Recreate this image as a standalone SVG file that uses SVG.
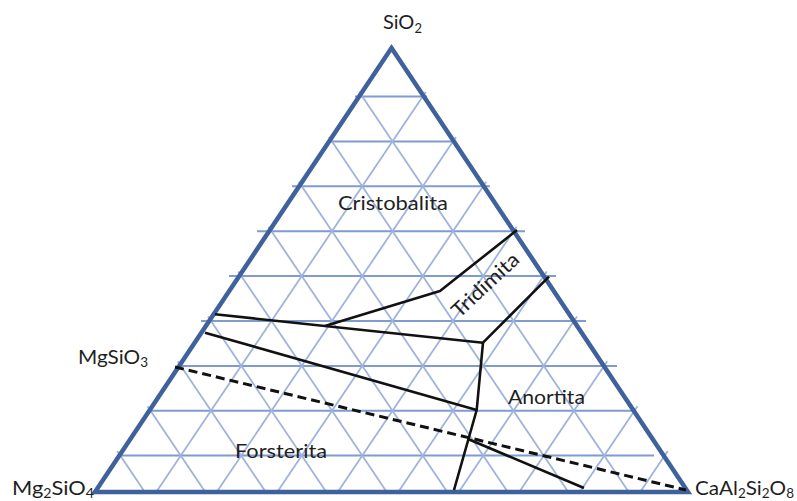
<svg xmlns="http://www.w3.org/2000/svg" width="797" height="501" viewBox="0 0 797 501">
<style>
.h{stroke:#7f9bd0;stroke-width:2;fill:none}
.d{stroke:#9fb3db;stroke-width:1.8;fill:none}
.ol{stroke:#3f619c;stroke-width:4.5;fill:none;stroke-linejoin:miter}
.b{stroke:#111;stroke-width:2.6;fill:none;stroke-linejoin:round}
.dash{stroke:#111;stroke-width:3;fill:none;stroke-dasharray:9 5}
text{font-family:Lato,"Open Sans","Liberation Sans",sans-serif;font-size:20px;fill:#1f1f1f}
.s{font-size:13px}
</style>
<rect width="797" height="501" fill="#fff"/>
<g id="grid">
<line class="h" x1="355" y1="96.6" x2="427" y2="96.6"/>
<line class="h" x1="329" y1="141.5" x2="455" y2="141.5"/>
<line class="h" x1="292" y1="186.3" x2="490" y2="186.3"/>
<line class="h" x1="257" y1="231.2" x2="525" y2="231.2"/>
<line class="h" x1="229" y1="276.1" x2="556" y2="276.1"/>
<line class="h" x1="201" y1="321" x2="586" y2="321"/>
<line class="h" x1="178" y1="365.9" x2="617" y2="365.9"/>
<line class="h" x1="150" y1="410.7" x2="632" y2="410.7"/>
<line class="h" x1="122" y1="455.6" x2="654" y2="455.6"/>
<line class="d" x1="425.75" y1="92.08" x2="156.25" y2="492"/>
<line class="d" x1="456" y1="136.96" x2="216.75" y2="492"/>
<line class="d" x1="486.25" y1="181.84" x2="277.25" y2="492"/>
<line class="d" x1="516.5" y1="226.72" x2="337.75" y2="492"/>
<line class="d" x1="546.75" y1="271.6" x2="398.25" y2="492"/>
<line class="d" x1="577" y1="316.48" x2="458.75" y2="492"/>
<line class="d" x1="607.25" y1="361.36" x2="519.25" y2="492"/>
<line class="d" x1="637.5" y1="406.24" x2="579.75" y2="492"/>
<line class="d" x1="667.75" y1="451.12" x2="640.25" y2="492"/>
<line class="d" x1="359.25" y1="92.08" x2="628.75" y2="492"/>
<line class="d" x1="329" y1="136.96" x2="568.25" y2="492"/>
<line class="d" x1="298.75" y1="181.84" x2="507.75" y2="492"/>
<line class="d" x1="268.5" y1="226.72" x2="447.25" y2="492"/>
<line class="d" x1="238.25" y1="271.6" x2="386.75" y2="492"/>
<line class="d" x1="208" y1="316.48" x2="326.25" y2="492"/>
<line class="d" x1="177.75" y1="361.36" x2="265.75" y2="492"/>
<line class="d" x1="147.5" y1="406.24" x2="205.25" y2="492"/>
<line class="d" x1="117.25" y1="451.12" x2="144.75" y2="492"/>
</g>
<g id="outline">
<polygon class="ol" points="391.5,48 688,492 95,492"/>
</g>
<g id="connectors">
<polyline class="b" points="215,314.3 483,342.7"/>
<polyline class="b" points="325,326 440,291 517,230"/>
<polyline class="b" points="483,342.7 549,276.7"/>
<polyline class="b" points="205,332.7 476.7,410"/>
<polyline class="b" points="483,342.7 476.7,410 454,490"/>
<polyline class="b" points="468,439 584,488"/>
<line class="dash" x1="175" y1="367" x2="686" y2="490"/>
</g>
<g id="SiO2"><text x="383" y="29">SiO<tspan class="s" dy="4">2</tspan></text></g>
<g id="Cristobalita"><text x="338" y="209.5" textLength="110" lengthAdjust="spacingAndGlyphs">Cristobalita</text></g>
<g id="Tridimita"><text transform="translate(490,290) rotate(-43)" text-anchor="middle" textLength="84" lengthAdjust="spacingAndGlyphs">Tridimita</text></g>
<g id="Anortita"><text x="508" y="404" textLength="77" lengthAdjust="spacingAndGlyphs">Anortita</text></g>
<g id="Forsterita"><text x="235" y="458" textLength="92" lengthAdjust="spacingAndGlyphs">Forsterita</text></g>
<g id="MgSiO3"><text x="78" y="364" textLength="70" lengthAdjust="spacingAndGlyphs">MgSiO<tspan class="s" dy="3">3</tspan></text></g>
<g id="Mg2SiO4"><text x="12" y="495" textLength="82" lengthAdjust="spacingAndGlyphs">Mg<tspan class="s" dy="3">2</tspan><tspan dy="-3">SiO</tspan><tspan class="s" dy="3">4</tspan></text></g>
<g id="CaAl2Si2O8"><text x="695" y="495" textLength="99" lengthAdjust="spacingAndGlyphs">CaAl<tspan class="s" dy="3">2</tspan><tspan dy="-3">Si</tspan><tspan class="s" dy="3">2</tspan><tspan dy="-3">O</tspan><tspan class="s" dy="3">8</tspan></text></g>
</svg>
